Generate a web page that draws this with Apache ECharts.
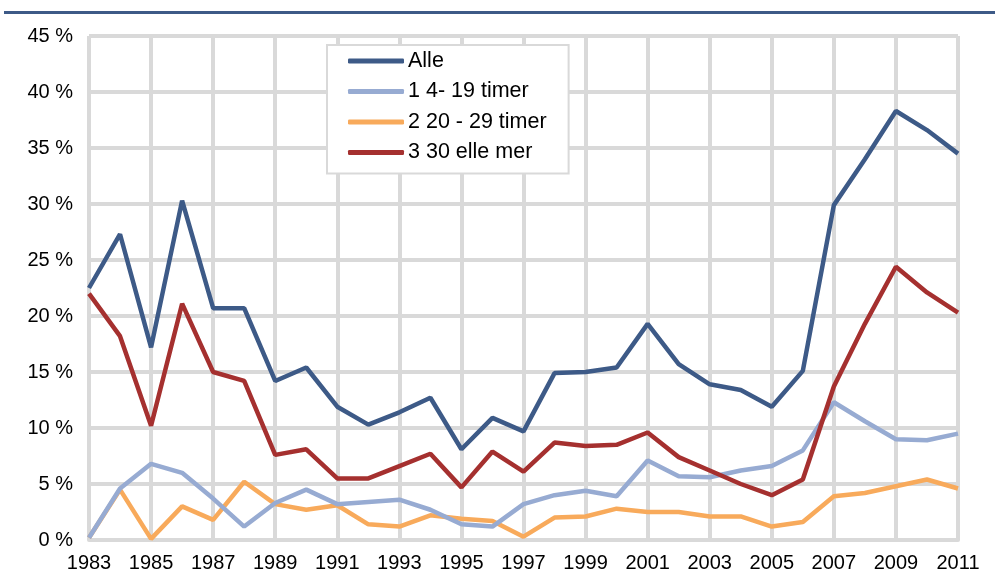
<!DOCTYPE html>
<html>
<head>
<meta charset="utf-8">
<script src="https://cdn.jsdelivr.net/npm/echarts@6/dist/echarts.min.js"></script>
<style>html,body{margin:0;padding:0;background:#fff}#c{width:995px;height:588px}</style>
</head>
<body>
<div id="c"></div>
<script>
const years = ['1983','1984','1985','1986','1987','1988','1989','1990','1991','1992','1993','1994','1995','1996','1997','1998','1999','2000','2001','2002','2003','2004','2005','2006','2007','2008','2009','2010','2011'];
const seriesNames = ['Alle','1 4- 19 timer','2 20 - 29 timer','3 30 elle mer'];
const alle =   [22.5,27.3,17.2,30.3,20.7,20.7,14.2,15.4,11.9,10.3,11.4,12.7,8.1,10.9,9.7,14.9,15.0,15.4,19.3,15.7,13.9,13.4,11.9,15.1,29.9,34.0,38.3,36.6,34.5];
const t4_19 =  [0.2,4.6,6.8,6.0,3.7,1.2,3.3,4.5,3.2,3.4,3.6,2.7,1.4,1.2,3.2,4.0,4.4,3.9,7.1,5.7,5.6,6.2,6.6,8.0,12.3,10.6,9.0,8.9,9.5];
const t20_29 = [0.2,4.5,0.1,3.0,1.8,5.2,3.2,2.7,3.1,1.4,1.2,2.2,1.9,1.7,0.3,2.0,2.1,2.8,2.5,2.5,2.1,2.1,1.2,1.6,3.9,4.2,4.8,5.4,4.6];
const t30 =    [22.0,18.2,10.2,21.1,15.0,14.2,7.6,8.1,5.5,5.5,6.6,7.7,4.7,7.9,6.1,8.7,8.4,8.5,9.6,7.4,6.2,5.0,4.0,5.4,13.7,19.3,24.4,22.1,20.3];
const colors = ['#3d5a87','#97abd2','#f8aa5b','#a5302f'];
const values = [alle,t4_19,t20_29,t30];

const chart = echarts.init(document.getElementById('c'));
const gridColor = '#d9d9d9';
chart.setOption({
  animation:false,
  textStyle:{fontFamily:'Liberation Sans, Arial, sans-serif'},
  graphic:[{type:'rect',shape:{x:4,y:11,width:991,height:3},style:{fill:'#3d5a87'}}],
  grid:{left:89,right:37,top:36,bottom:48,containLabel:false},
  legend:{
    orient:'vertical',left:327,top:45,
    data:seriesNames,
    backgroundColor:'#fff',borderColor:gridColor,borderWidth:2,
    padding:[5,22,10,21],itemGap:8.5,itemWidth:56,itemHeight:5,
    icon:'roundRect',
    textStyle:{fontSize:21.5,color:'#000',padding:[0,0,0,-1]}
  },
  xAxis:{
    type:'category',data:years,boundaryGap:false,
    axisLine:{show:true,lineStyle:{color:gridColor,width:4}},
    axisTick:{show:false},
    axisLabel:{interval:1,fontSize:20,color:'#000',margin:13},
    splitLine:{show:true,interval:1,lineStyle:{color:gridColor,width:4}}
  },
  yAxis:{
    type:'value',min:0,max:45,interval:5,
    axisLine:{show:false},axisTick:{show:false},
    axisLabel:{formatter:'{value} %',fontSize:20,color:'#000',margin:16},
    splitLine:{show:true,lineStyle:{color:gridColor,width:4}}
  },
  series:seriesNames.map((n,i)=>({
    name:n,type:'line',data:values[i],symbol:'none',
    lineStyle:{color:colors[i],width:4.5},itemStyle:{color:colors[i]},
    z:[5,3,2,4][i]
  }))
});
</script>
</body>
</html>
